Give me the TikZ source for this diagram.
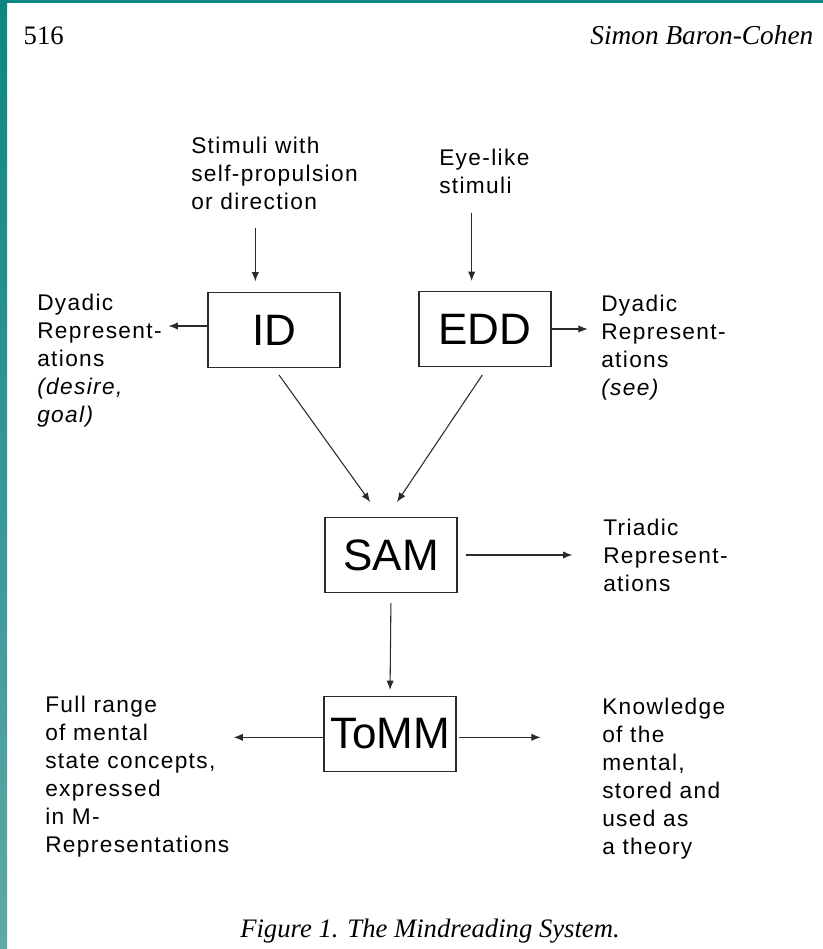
\documentclass[tikz,border=0pt]{standalone}
\usepackage{fontspec}
\setmainfont{Liberation Serif}
\newfontfamily\lblfont{Liberation Sans}[LetterSpace=6]
\newfontfamily\boxfont{Liberation Sans}
\usetikzlibrary{arrows.meta}
\definecolor{tealedge}{HTML}{0B8683}
\definecolor{tealfade}{HTML}{5FA8A8}
\definecolor{inkgray}{HTML}{2A2A2A}

\begin{document}
\begin{tikzpicture}[x=0.75pt,y=-0.75pt,
  module/.style={draw=inkgray,line width=1pt,minimum width=99pt,minimum height=56pt,
    inner sep=0pt,font=\boxfont\fontsize{33}{37}\selectfont},
  note/.style={anchor=north west,align=left,inner sep=0pt,
    font=\lblfont\fontsize{17}{21}\selectfont},
  flow/.style={-{Latex[length=7pt,width=5.5pt]},draw=inkgray,line width=0.8pt}]
  \useasboundingbox (0,0) rectangle (823,949);
  \fill[white] (0,0) rectangle (823,949);
  % scan edge
  \shade[top color=tealedge,bottom color=tealfade] (0,0) rectangle (7,949);
  \fill[tealedge] (0,0) rectangle (823,3);

  % running head and caption
  \node[anchor=base west,font=\fontsize{20}{24}\selectfont] (pageno) at (19,45) {516};
  \node[anchor=base east,font=\itshape\fontsize{20.5}{24}\selectfont] (runhead) at (818,45) {Simon Baron-Cohen};
  \node[anchor=base,font=\itshape\fontsize{20}{24}\selectfont] (caption) at (430,937) {Figure 1. The Mindreading System.};

  % modules
  \node[module] (id) at (274,330) {ID};
  \node[module] (edd) at (485,329) {EDD};
  \node[module] (sam) at (391,555) {SAM};
  \node[module] (tomm) at (390,734) {ToMM};

  % inputs and outputs
  \node[note] (stim) at (191,137) {Stimuli with\\self-propulsion\\or direction};
  \node[note] (eye) at (439,149) {Eye-like\\stimuli};
  \node[note] (dyadL) at (37,294) {Dyadic\\Represent-\\ations\\{\itshape (desire,}\\{\itshape goal)}};
  \node[note] (dyadR) at (601,295) {Dyadic\\Represent-\\ations\\{\itshape (see)}};
  \node[note] (triad) at (603,519) {Triadic\\Represent-\\ations};
  \node[note] (full) at (45,696) {Full range\\of mental\\state concepts,\\expressed\\in M-\\Representations};
  \node[note] (know) at (602,698) {Knowledge\\of the\\mental,\\stored and\\used as\\a theory};

  \draw[flow,shorten <=13pt,shorten >=8pt] ([xshift=-14pt]id.north |- stim.south) -- ([xshift=-14pt]id.north);
  \draw[flow,shorten <=14pt,shorten >=7.5pt] ([xshift=-10pt]edd.north |- eye.south) -- ([xshift=-10pt]edd.north);
  \draw[flow,shorten >=5pt] ([yshift=3pt]id.west) -- ([yshift=3pt]id.west -| dyadL.east);
  \draw[flow,shorten >=10pt] (edd.east) -- (edd.east -| dyadR.west);
  \draw[flow,shorten <=6.4pt,shorten >=13.8pt] (id.south) -- ([xshift=-7.5pt]sam.north);
  \draw[flow,shorten <=7.2pt,shorten >=13.5pt] ([xshift=2pt]edd.south) -- ([xshift=-3pt]sam.north);
  \draw[flow,shorten <=6pt,shorten >=23pt] (sam.east) -- (sam.east -| triad.west);
  \draw[flow,shorten <=7.5pt,shorten >=4.5pt] (sam.south) -- (tomm.north);
  \draw[flow,shorten >=3pt] ([yshift=-2.5pt]tomm.west) -- ([yshift=-2.5pt]tomm.west -| full.east);
  \draw[flow,shorten <=1.5pt,shorten >=46pt] ([yshift=-2.5pt]tomm.east) -- ([yshift=-2.5pt]tomm.east -| know.west);
\end{tikzpicture}
\end{document}
